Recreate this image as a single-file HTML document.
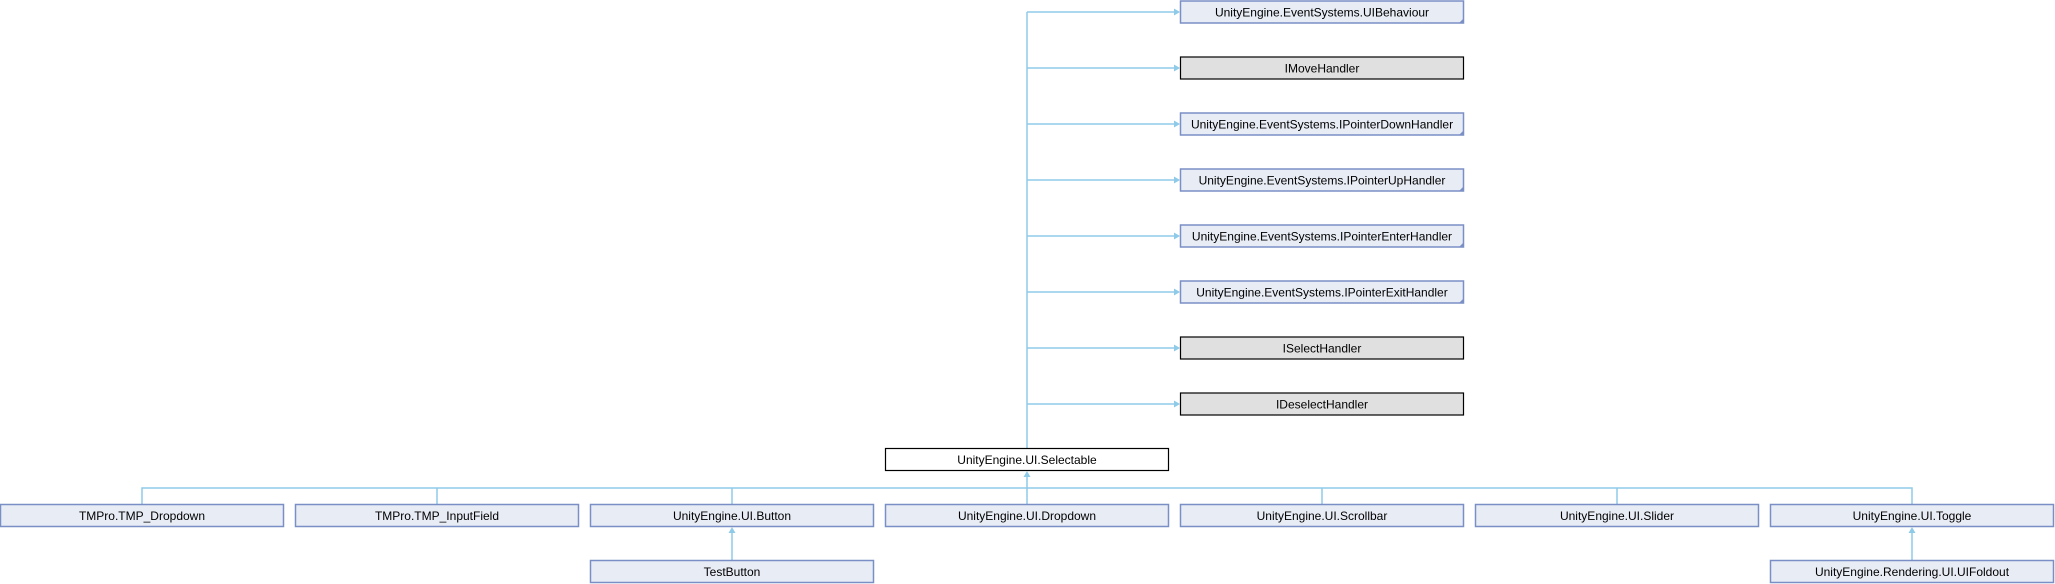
<!DOCTYPE html>
<html><head><meta charset="utf-8"><style>
html,body{margin:0;padding:0;background:#fff;}
svg{display:block;}
text{font-family:"Liberation Sans",sans-serif;font-size:12px;fill:#000;text-anchor:middle;}
.b{fill:#e8ecf5;stroke:#7a8fc6;stroke-width:1.5;}
.g{fill:#e0e0e0;stroke:#000;stroke-width:1.2;}
.w{fill:#fff;stroke:#000;stroke-width:1.2;}
.l{stroke:#8fcbe8;stroke-width:1.5;fill:none;}
.a{fill:#8fcbe8;}
.c{fill:#7a8fc6;}
</style></head><body>
<svg width="2055" height="584" viewBox="0 0 2055 584" xmlns="http://www.w3.org/2000/svg">
<!-- trunk -->
<path class="l" d="M1027 12 V448"/>
<g id="arrows">
<path class="l" d="M1027 12 H1175 M1027 68 H1175 M1027 124 H1175 M1027 180 H1175 M1027 236 H1175 M1027 292 H1175 M1027 348 H1175 M1027 404 H1175"/>
<polygon class="a" points="1174,8.5 1180,12 1174,15.5"/>
<polygon class="a" points="1174,64.5 1180,68 1174,71.5"/>
<polygon class="a" points="1174,120.5 1180,124 1174,127.5"/>
<polygon class="a" points="1174,176.5 1180,180 1174,183.5"/>
<polygon class="a" points="1174,232.5 1180,236 1174,239.5"/>
<polygon class="a" points="1174,288.5 1180,292 1174,295.5"/>
<polygon class="a" points="1174,344.5 1180,348 1174,351.5"/>
<polygon class="a" points="1174,400.5 1180,404 1174,407.5"/>
</g>
<!-- top nodes -->
<rect class="b" x="1180.5" y="1" width="283" height="22"/><polygon class="c" points="1464,18 1464,23 1459,23"/><text x="1322" y="16.5">UnityEngine.EventSystems.UIBehaviour</text>
<rect class="g" x="1180.5" y="57" width="283" height="22"/><text x="1322" y="72.5">IMoveHandler</text>
<rect class="b" x="1180.5" y="113" width="283" height="22"/><polygon class="c" points="1464,130 1464,135 1459,135"/><text x="1322" y="128.5">UnityEngine.EventSystems.IPointerDownHandler</text>
<rect class="b" x="1180.5" y="169" width="283" height="22"/><polygon class="c" points="1464,186 1464,191 1459,191"/><text x="1322" y="184.5">UnityEngine.EventSystems.IPointerUpHandler</text>
<rect class="b" x="1180.5" y="225" width="283" height="22"/><polygon class="c" points="1464,242 1464,247 1459,247"/><text x="1322" y="240.5">UnityEngine.EventSystems.IPointerEnterHandler</text>
<rect class="b" x="1180.5" y="281" width="283" height="22"/><polygon class="c" points="1464,298 1464,303 1459,303"/><text x="1322" y="296.5">UnityEngine.EventSystems.IPointerExitHandler</text>
<rect class="g" x="1180.5" y="337" width="283" height="22"/><text x="1322" y="352.5">ISelectHandler</text>
<rect class="g" x="1180.5" y="393" width="283" height="22"/><text x="1322" y="408.5">IDeselectHandler</text>
<!-- selectable -->
<rect class="w" x="885.5" y="448.5" width="283" height="22"/><text x="1027" y="464">UnityEngine.UI.Selectable</text>
<!-- bus -->
<path class="l" d="M142 504 V488 H1912 V504 M437 488 V504 M732 488 V504 M1027 504 V476 M1322 488 V504 M1617 488 V504"/>
<polygon class="a" points="1023.5,477 1027,471 1030.5,477"/>
<!-- row -->
<rect class="b" x="0.5" y="504.5" width="283" height="22"/><text x="142" y="520">TMPro.TMP_Dropdown</text>
<rect class="b" x="295.5" y="504.5" width="283" height="22"/><text x="437" y="520">TMPro.TMP_InputField</text>
<rect class="b" x="590.5" y="504.5" width="283" height="22"/><text x="732" y="520">UnityEngine.UI.Button</text>
<rect class="b" x="885.5" y="504.5" width="283" height="22"/><text x="1027" y="520">UnityEngine.UI.Dropdown</text>
<rect class="b" x="1180.5" y="504.5" width="283" height="22"/><text x="1322" y="520">UnityEngine.UI.Scrollbar</text>
<rect class="b" x="1475.5" y="504.5" width="283" height="22"/><text x="1617" y="520">UnityEngine.UI.Slider</text>
<rect class="b" x="1770.5" y="504.5" width="283" height="22"/><text x="1912" y="520">UnityEngine.UI.Toggle</text>
<!-- children -->
<path class="l" d="M732 560 V532 M1912 560 V532"/>
<polygon class="a" points="728.5,533 732,527 735.5,533"/>
<polygon class="a" points="1908.5,533 1912,527 1915.5,533"/>
<rect class="b" x="590.5" y="560.5" width="283" height="22"/><text x="732" y="576">TestButton</text>
<rect class="b" x="1770.5" y="560.5" width="283" height="22"/><text x="1912" y="576">UnityEngine.Rendering.UI.UIFoldout</text>
</svg>
</body></html>
